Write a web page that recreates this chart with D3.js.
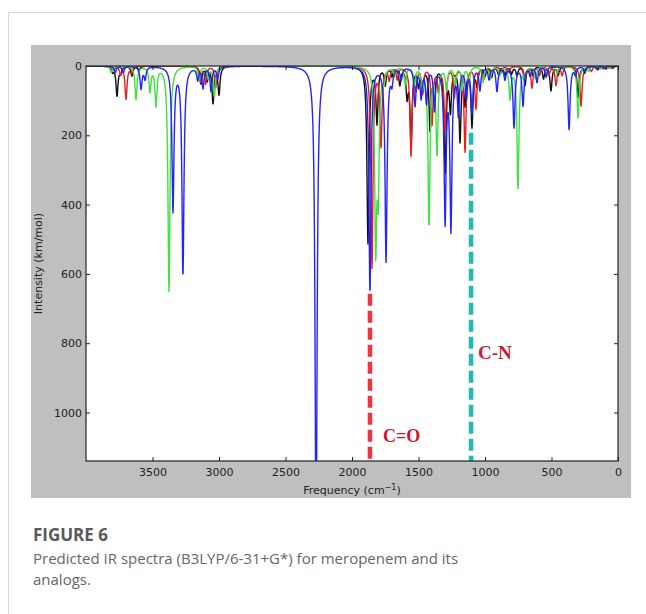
<!DOCTYPE html>
<html>
<head>
<meta charset="utf-8">
<script src="https://cdn.jsdelivr.net/npm/d3@7"></script>
<style>
  body { margin: 0; background: #fff; }
  svg { display: block; }
</style>
</head>
<body>
<svg id="chart" width="646" height="614"></svg>
<script>
// Peaks: [frequency cm-1, intensity km/mol]
const blackPeaks = [
  [3800, 15], [3767, 85], [3740, 18], [3654, 28], [3600, 12],
  [3135, 50], [3090, 40], [3045, 105], [3000, 80],
  [1880, 510], [1812, 160], [1750, 50], [1700, 25], [1640, 50], [1586, 80],
  [1556, 220], [1500, 50], [1470, 65], [1413, 180], [1380, 80], [1300, 300],
  [1260, 120], [1188, 210], [1150, 100], [1098, 170], [1060, 50], [1000, 25],
  [950, 30], [900, 20], [850, 25], [800, 20], [760, 25], [699, 55], [640, 25],
  [560, 35], [504, 70], [450, 25], [300, 90], [250, 18], [150, 10], [90, 8], [40, 6]
];
const redPeaks = [
  [3790, 10], [3740, 22], [3699, 95], [3660, 18],
  [3140, 45], [3100, 50], [3025, 62],
  [1850, 580], [1782, 225], [1720, 35], [1660, 35], [1556, 255], [1520, 55],
  [1470, 75], [1398, 165], [1350, 65], [1300, 180], [1230, 85], [1150, 245],
  [1068, 120], [1010, 35], [950, 20], [880, 18], [820, 18], [700, 35], [647, 62],
  [590, 25], [520, 25], [466, 55], [420, 25], [278, 115], [200, 14], [110, 8], [60, 6]
];
const greenPeaks = [
  [3810, 18], [3624, 95], [3519, 70], [3474, 110], [3376, 650],
  [3150, 40], [3080, 35], [3035, 88],
  [1822, 500], [1803, 330], [1760, 35], [1680, 25], [1600, 50], [1530, 50],
  [1470, 50], [1421, 455], [1361, 250], [1290, 65], [1226, 50], [1170, 65],
  [1120, 50], [1015, 45], [960, 35], [890, 25], [812, 90], [752, 350], [700, 25],
  [620, 35], [540, 25], [460, 20], [300, 150], [220, 14], [130, 8], [70, 6]
];
const bluePeaks = [
  [3780, 18], [3720, 18], [3586, 64], [3556, 35], [3346, 415], [3271, 600],
  [3160, 35], [3120, 60], [3060, 70], [3010, 35],
  [2270, 1400],
  [1865, 650], [1744, 560], [1700, 40], [1630, 35], [1526, 110], [1480, 85],
  [1440, 100], [1380, 120], [1300, 440], [1256, 460], [1200, 130], [1140, 85],
  [1098, 130], [1038, 65], [970, 35], [910, 70], [850, 35], [782, 175],
  [714, 112], [660, 25], [609, 45], [540, 30], [368, 182], [320, 22], [250, 14],
  [160, 8], [100, 6]
];

const seriesColors = ['#111111', '#ee1c1c', '#3fe23f', '#2323ff'];
const xTicks = [3500, 3000, 2500, 2000, 1500, 1000, 500, 0];
const yTicks = [0, 200, 400, 600, 800, 1000];

// band annotations: frequency, intensity where the dash starts, label
const bandFreqs = [1865, 1105];
const bandStarts = [657, 193];
const bandLabels = ['C=O', 'C-N'];
const bandColors = ['#ee3344', '#22b8b4'];

const halfWidth = 9; // lorentzian HWHM used in the original plot

const svg = d3.select('#chart');
const W = 646, H = 614;

// card frame
svg.append('line').attr('x1', 8).attr('x2', W).attr('y1', 12.5).attr('y2', 12.5)
  .attr('stroke', '#d8d8d8');
svg.append('line').attr('x1', 8.5).attr('x2', 8.5).attr('y1', 12).attr('y2', H)
  .attr('stroke', '#d8d8d8');

// grey figure background
svg.append('rect').attr('x', 31).attr('y', 45).attr('width', 600).attr('height', 453)
  .attr('fill', '#bfbfbf');

const margin = { left: 86, top: 66, right: 618, bottom: 461 };

const x = d3.scaleLinear().domain([4000, 0]).range([margin.left, margin.right]);
const y = d3.scaleLinear().domain([0, 1140]).range([margin.top, margin.bottom]);

svg.append('rect')
  .attr('x', margin.left).attr('y', margin.top)
  .attr('width', margin.right - margin.left).attr('height', margin.bottom - margin.top)
  .attr('fill', '#fff');

svg.append('clipPath').attr('id', 'plotclip')
  .append('rect')
  .attr('x', margin.left).attr('y', margin.top)
  .attr('width', margin.right - margin.left).attr('height', margin.bottom - margin.top);

// broaden each stick spectrum into a curve
const grid = d3.range(4000, -0.5, -2);
function spectrum(peaks) {
  return grid.map(f => {
    let v = 0;
    peaks.forEach(p => {
      const d = f - p[0];
      v += p[1] * halfWidth * halfWidth / (d * d + halfWidth * halfWidth);
    });
    return [f, v];
  });
}

const line = d3.line()
  .x(d => x(d[0]))
  .y(d => y(d[1]));

const plot = svg.append('g').attr('clip-path', 'url(#plotclip)');
[blackPeaks, redPeaks, greenPeaks, bluePeaks].forEach((peaks, i) => {
  plot.append('path')
    .datum(spectrum(peaks))
    .attr('d', line)
    .attr('fill', 'none')
    .attr('stroke', seriesColors[i])
    .attr('stroke-width', 1.4)
    .attr('stroke-linejoin', 'round');
});

// dashed band markers
bandFreqs.forEach((f, i) => {
  svg.append('line')
    .attr('x1', x(f)).attr('x2', x(f))
    .attr('y1', y(bandStarts[i])).attr('y2', margin.bottom)
    .attr('stroke', bandColors[i])
    .attr('stroke-width', 4.5)
    .attr('stroke-dasharray', '12,5');
});
svg.append('text')
  .attr('x', x(bandFreqs[0]) + 13).attr('y', 442)
  .attr('font-family', 'Liberation Serif, serif').attr('font-weight', 'bold')
  .attr('font-size', 18).attr('fill', '#d0122f')
  .text(bandLabels[0]);
svg.append('text')
  .attr('x', x(bandFreqs[1]) + 7).attr('y', 359)
  .attr('font-family', 'Liberation Serif, serif').attr('font-weight', 'bold')
  .attr('font-size', 19).attr('fill', '#c81a34')
  .text(bandLabels[1]);

// axes (inward ticks on all four sides)
const font = "'DejaVu Sans', sans-serif";
function styleAxis(g, labels) {
  g.attr('font-family', font).attr('font-size', 11);
  g.select('.domain').remove();
  g.selectAll('line').attr('stroke', '#222');
  g.selectAll('text').attr('fill', '#222');
  if (!labels) g.selectAll('text').remove();
}
const fmt = d3.format('d');
svg.append('g').attr('transform', `translate(0,${margin.bottom})`)
  .call(d3.axisBottom(x).tickValues(xTicks).tickFormat(fmt).tickSize(-4).tickPadding(7))
  .call(g => styleAxis(g, true));
svg.append('g').attr('transform', `translate(0,${margin.top})`)
  .call(d3.axisTop(x).tickValues(xTicks).tickSize(-4))
  .call(g => styleAxis(g, false));
svg.append('g').attr('transform', `translate(${margin.left},0)`)
  .call(d3.axisLeft(y).tickValues(yTicks).tickFormat(fmt).tickSize(-4).tickPadding(4))
  .call(g => styleAxis(g, true));
svg.append('g').attr('transform', `translate(${margin.right},0)`)
  .call(d3.axisRight(y).tickValues(yTicks).tickSize(-4))
  .call(g => styleAxis(g, false));

// frame
svg.append('rect')
  .attr('x', margin.left).attr('y', margin.top)
  .attr('width', margin.right - margin.left).attr('height', margin.bottom - margin.top)
  .attr('fill', 'none').attr('stroke', '#222').attr('stroke-width', 1.2);

// axis titles
const xt = svg.append('text')
  .attr('x', (margin.left + margin.right) / 2).attr('y', 494)
  .attr('text-anchor', 'middle')
  .attr('font-family', font).attr('font-size', 11).attr('fill', '#222');
xt.append('tspan').text('Frequency (cm');
xt.append('tspan').attr('dy', -4).attr('font-size', 8).text('\u22121');
xt.append('tspan').attr('dy', 4).text(')');

svg.append('text')
  .attr('transform', `translate(42,${(margin.top + margin.bottom) / 2}) rotate(-90)`)
  .attr('text-anchor', 'middle')
  .attr('font-family', font).attr('font-size', 11).attr('fill', '#222')
  .text('Intensity (km/mol)');

// caption
svg.append('text').attr('x', 33).attr('y', 541)
  .attr('font-family', 'Open Sans, sans-serif').attr('font-weight', 'bold')
  .attr('font-size', 17).attr('fill', '#595959')
  .text('FIGURE 6');
svg.append('text').attr('x', 33).attr('y', 564)
  .attr('font-family', 'Open Sans, sans-serif')
  .attr('font-size', 15).attr('fill', '#666')
  .text('Predicted IR spectra (B3LYP/6-31+G*) for meropenem and its');
svg.append('text').attr('x', 33).attr('y', 585)
  .attr('font-family', 'Open Sans, sans-serif')
  .attr('font-size', 15).attr('fill', '#666')
  .text('analogs.');
</script>
</body>
</html>
